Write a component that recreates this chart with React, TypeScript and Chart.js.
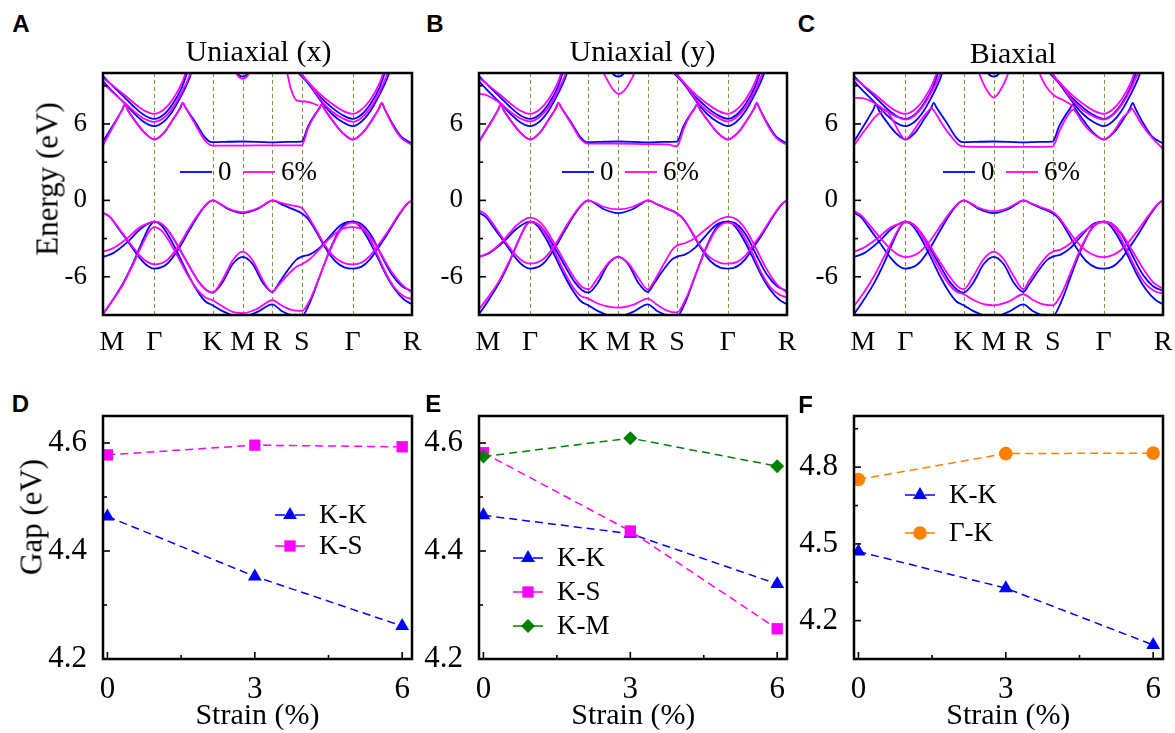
import React, { useEffect, useRef } from 'react';
import { Chart, registerables } from 'chart.js';

Chart.register(...registerables);

type Pt = [number, number];

const SERIF = '"Liberation Serif", "Times New Roman", serif';
const SANS = '"Liberation Sans", Arial, sans-serif';
const BLUE = '#0000ff';
const MAGENTA = '#ff00ff';
const GREEN = '#008000';
const ORANGE = '#ff8000';
const OLIVE = '#8a8a40';

// ---------------- band structure (panels A-C) ----------------
const K_POS = [0, 0.166, 0.355, 0.452, 0.548, 0.643, 0.808, 1.0];
const K_LABEL_POS = [0.029, 0.166, 0.355, 0.452, 0.548, 0.643, 0.808, 1.0];
const K_LABELS = ['M', 'Γ', 'K', 'M', 'R', 'S', 'Γ', 'R'];
const E_TICKS = [-6, 0, 6];
const E_MINOR = [-3, 3, 9];
const BAND_LEGEND = ['0', '6%'];

// unstrained (0) bands, same in all three panels
const BLUE_V1: Pt[] = [[0,-0.97],[0.022,-1.3],[0.044,-2.0],[0.087,-3.45],[0.12,-4.55],[0.145,-5.15],[0.166,-5.36],[0.207,-5.0],[0.244,-3.84],[0.281,-2.27],[0.314,-0.97],[0.341,-0.18],[0.355,0],[0.38,-0.3],[0.404,-0.68],[0.452,-1.0],[0.5,-0.68],[0.525,-0.3],[0.548,0],[0.578,-0.31],[0.61,-0.65],[0.643,-1.02],[0.665,-1.5],[0.692,-2.54],[0.719,-3.7],[0.751,-4.76],[0.783,-5.28],[0.808,-5.36],[0.837,-5.2],[0.864,-4.63],[0.891,-3.71],[0.923,-2.54],[0.956,-1.23],[0.983,-0.31],[1,0]];
const BLUE_V2: Pt[] = [[0,-4.44],[0.033,-4.14],[0.077,-3.32],[0.12,-2.27],[0.152,-1.76],[0.166,-1.67],[0.19,-1.85],[0.215,-2.5],[0.245,-3.7],[0.28,-5.2],[0.31,-6.4],[0.335,-7.05],[0.355,-7.24],[0.385,-6.5],[0.42,-5.0],[0.452,-4.44],[0.484,-5.0],[0.518,-6.5],[0.548,-7.19],[0.567,-6.59],[0.6,-5.41],[0.627,-4.63],[0.643,-4.42],[0.67,-4.24],[0.702,-3.71],[0.735,-2.8],[0.773,-1.88],[0.808,-1.67],[0.837,-1.88],[0.869,-2.8],[0.902,-4.37],[0.934,-5.8],[0.967,-6.72],[1,-7.11]];
const BLUE_V3: Pt[] = [[0,-8.94],[0.033,-7.76],[0.066,-6.46],[0.098,-4.89],[0.13,-3.06],[0.152,-2.0],[0.166,-1.67],[0.19,-2.0],[0.215,-2.9],[0.245,-4.3],[0.275,-5.8],[0.305,-7.1],[0.33,-7.9],[0.355,-8.24],[0.385,-8.68],[0.42,-9.02],[0.452,-9.12],[0.5,-8.75],[0.548,-8.16],[0.578,-8.68],[0.61,-9.0],[0.643,-9.1],[0.67,-8.0],[0.702,-5.93],[0.735,-3.84],[0.767,-2.27],[0.79,-1.75],[0.808,-1.67],[0.83,-2.0],[0.855,-2.9],[0.885,-4.3],[0.915,-5.8],[0.945,-7.0],[0.975,-7.8],[1,-8.16]];
const BLUE_C1: Pt[] = [[0,4.62],[0.035,6.0],[0.062,7.1],[0.071,7.53],[0.08,7.1],[0.105,6.2],[0.135,5.3],[0.166,4.78],[0.197,5.3],[0.225,6.3],[0.249,7.2],[0.258,7.66],[0.268,7.25],[0.3,6.1],[0.33,4.95],[0.347,4.6],[0.36,4.57],[0.4,4.6],[0.452,4.62],[0.5,4.6],[0.548,4.55],[0.6,4.6],[0.643,4.62],[0.664,5.83],[0.686,6.75],[0.699,7.2],[0.708,7.53],[0.717,7.15],[0.745,6.2],[0.775,5.3],[0.808,4.78],[0.84,5.3],[0.87,6.3],[0.893,7.2],[0.902,7.66],[0.911,7.2],[0.935,6.1],[0.965,5.0],[1,4.47]];
const BLUE_C2: Pt[] = [[0,9.35],[0.035,8.45],[0.071,7.6],[0.1,6.85],[0.13,6.2],[0.166,5.83],[0.195,6.15],[0.225,7.0],[0.255,8.3],[0.28,9.6],[0.3,11],[0.6,11],[0.64,10.0],[0.67,9.0],[0.708,7.7],[0.74,6.8],[0.775,6.15],[0.808,5.83],[0.835,6.15],[0.865,7.0],[0.895,8.3],[0.92,9.6],[0.94,11]];
const BLUE_C3: Pt[] = [[0,9.75],[0.035,8.9],[0.071,8.05],[0.1,7.35],[0.13,6.75],[0.166,6.4],[0.195,6.7],[0.225,7.55],[0.255,8.85],[0.275,10.2],[0.29,11],[0.6,11],[0.625,10.2],[0.66,9.3],[0.7,8.2],[0.74,7.3],[0.775,6.7],[0.808,6.4],[0.835,6.7],[0.865,7.55],[0.895,8.85],[0.915,10.2],[0.93,11]];
const BLUE_C4: Pt[] = [[0.415,11],[0.435,9.95],[0.452,9.72],[0.469,9.95],[0.489,11]];

// highest magenta cup at Γ (nearly identical in all three panels)
const MAG_CUP_HIGH: Pt[] = [[0,9.6],[0.035,8.95],[0.071,8.25],[0.1,7.65],[0.13,7.1],[0.166,6.8],[0.195,7.1],[0.225,7.9],[0.255,9.2],[0.272,10.3],[0.285,11],[0.6,11],[0.625,10.3],[0.66,9.4],[0.7,8.4],[0.74,7.6],[0.775,7.05],[0.808,6.8],[0.835,7.1],[0.865,7.9],[0.895,9.2],[0.912,10.3],[0.925,11]];

// panel A: uniaxial (x), 6 %
const MAG_A_V1: Pt[] = [[0,-0.97],[0.022,-1.28],[0.044,-1.95],[0.087,-3.35],[0.12,-4.35],[0.145,-4.85],[0.166,-5.02],[0.207,-4.7],[0.244,-3.6],[0.281,-2.1],[0.314,-0.9],[0.341,-0.15],[0.355,0],[0.38,-0.28],[0.404,-0.62],[0.452,-0.92],[0.5,-0.62],[0.525,-0.28],[0.548,0],[0.578,-0.2],[0.61,-0.4],[0.643,-0.6],[0.665,-1.3],[0.692,-2.4],[0.719,-3.55],[0.751,-4.5],[0.783,-4.95],[0.808,-5.02],[0.837,-4.88],[0.864,-4.35],[0.891,-3.5],[0.923,-2.4],[0.956,-1.15],[0.983,-0.3],[1,0]];
const MAG_A_V2: Pt[] = [[0,-4.03],[0.033,-3.75],[0.077,-3.0],[0.12,-2.1],[0.152,-1.75],[0.166,-1.67],[0.19,-1.85],[0.215,-2.5],[0.245,-3.7],[0.28,-5.2],[0.31,-6.4],[0.335,-7.05],[0.355,-7.24],[0.385,-6.3],[0.42,-4.7],[0.452,-4.03],[0.484,-4.7],[0.518,-6.3],[0.548,-7.2],[0.567,-6.7],[0.6,-5.8],[0.627,-5.2],[0.643,-5.02],[0.67,-4.6],[0.702,-3.8],[0.735,-2.95],[0.773,-2.25],[0.808,-2.1],[0.837,-2.25],[0.869,-3.0],[0.902,-4.3],[0.934,-5.6],[0.967,-6.6],[1,-7.24]];
const MAG_A_V3: Pt[] = [[0,-8.9],[0.033,-7.8],[0.066,-6.55],[0.098,-5.0],[0.13,-3.3],[0.152,-2.35],[0.166,-2.1],[0.19,-2.4],[0.215,-3.25],[0.245,-4.55],[0.275,-5.9],[0.305,-7.0],[0.33,-7.6],[0.355,-7.84],[0.385,-8.3],[0.42,-8.75],[0.452,-8.86],[0.5,-8.5],[0.548,-7.84],[0.578,-8.25],[0.61,-8.6],[0.643,-8.68],[0.67,-7.8],[0.702,-5.9],[0.735,-3.9],[0.767,-2.4],[0.79,-1.85],[0.808,-1.75],[0.83,-1.9],[0.855,-2.6],[0.885,-4.1],[0.915,-5.7],[0.945,-6.9],[0.975,-7.55],[1,-7.76]];
const MAG_A_C1: Pt[] = [[0,4.33],[0.035,5.9],[0.062,7.1],[0.071,7.55],[0.08,7.1],[0.105,6.2],[0.135,5.3],[0.166,4.78],[0.197,5.3],[0.225,6.3],[0.249,7.2],[0.258,7.68],[0.268,7.25],[0.3,5.9],[0.33,4.7],[0.347,4.35],[0.36,4.3],[0.452,4.3],[0.548,4.32],[0.643,4.32],[0.664,5.7],[0.686,6.7],[0.699,7.15],[0.708,7.55],[0.717,7.15],[0.745,6.2],[0.775,5.3],[0.808,4.78],[0.84,5.3],[0.87,6.3],[0.893,7.2],[0.902,7.68],[0.911,7.2],[0.935,6.0],[0.965,4.9],[1,4.34]];
const MAG_A_C2: Pt[] = [[0,9.2],[0.035,8.4],[0.071,7.65],[0.1,7.0],[0.13,6.45],[0.166,6.17],[0.195,6.45],[0.225,7.25],[0.255,8.5],[0.28,9.8],[0.295,11],[0.62,11],[0.64,10.0],[0.67,9.1],[0.708,7.8],[0.74,7.0],[0.775,6.45],[0.808,6.17],[0.835,6.45],[0.865,7.25],[0.895,8.5],[0.918,9.8],[0.935,11]];
const MAG_A_C4: Pt[] = [[0.415,11],[0.433,9.9],[0.452,9.55],[0.471,9.9],[0.489,11]];
const MAG_A_C5: Pt[] = [[0.585,11],[0.594,10.2],[0.61,8.6],[0.627,7.85],[0.659,7.75],[0.697,7.45]];

// panel B: uniaxial (y), 6 %
const MAG_B_V1: Pt[] = [[0,-0.8],[0.022,-1.1],[0.044,-1.8],[0.087,-3.3],[0.12,-4.3],[0.145,-4.82],[0.166,-4.97],[0.207,-4.65],[0.244,-3.6],[0.281,-2.1],[0.314,-0.9],[0.341,-0.15],[0.355,0],[0.38,-0.22],[0.404,-0.5],[0.452,-0.7],[0.5,-0.5],[0.525,-0.22],[0.548,0],[0.578,-0.3],[0.61,-0.65],[0.643,-1.05],[0.665,-1.5],[0.692,-2.5],[0.719,-3.6],[0.751,-4.5],[0.783,-4.9],[0.808,-4.97],[0.837,-4.85],[0.864,-4.35],[0.891,-3.5],[0.923,-2.4],[0.956,-1.15],[0.983,-0.3],[1,0]];
const MAG_B_V2: Pt[] = [[0,-4.45],[0.033,-4.1],[0.077,-3.2],[0.12,-2.0],[0.152,-1.45],[0.166,-1.35],[0.19,-1.55],[0.215,-2.2],[0.245,-3.4],[0.28,-4.9],[0.31,-6.1],[0.335,-6.8],[0.355,-6.98],[0.385,-6.1],[0.42,-4.9],[0.452,-4.45],[0.484,-4.9],[0.518,-6.1],[0.548,-7.0],[0.567,-6.4],[0.6,-5.0],[0.627,-3.9],[0.643,-3.55],[0.67,-3.35],[0.702,-2.95],[0.735,-2.3],[0.773,-1.6],[0.808,-1.3],[0.837,-1.5],[0.869,-2.4],[0.902,-3.9],[0.934,-5.4],[0.967,-6.6],[1,-7.24]];
const MAG_B_V3: Pt[] = [[0,-8.55],[0.033,-7.5],[0.066,-6.3],[0.098,-4.8],[0.13,-3.1],[0.152,-2.0],[0.166,-1.7],[0.19,-1.85],[0.215,-2.6],[0.245,-4.0],[0.275,-5.5],[0.305,-6.8],[0.33,-7.5],[0.355,-7.71],[0.385,-8.1],[0.42,-8.35],[0.452,-8.42],[0.5,-8.2],[0.548,-7.71],[0.578,-8.2],[0.61,-8.65],[0.643,-8.8],[0.67,-7.8],[0.702,-5.9],[0.735,-3.9],[0.767,-2.4],[0.79,-1.85],[0.808,-1.75],[0.83,-1.9],[0.855,-2.6],[0.885,-4.0],[0.915,-5.6],[0.945,-6.8],[0.975,-7.4],[1,-7.63]];
const MAG_B_C1: Pt[] = [[0,4.6],[0.035,5.95],[0.062,7.1],[0.071,7.55],[0.08,7.1],[0.105,6.2],[0.135,5.3],[0.166,4.78],[0.197,5.3],[0.225,6.3],[0.249,7.2],[0.258,7.66],[0.268,7.25],[0.3,6.0],[0.33,4.8],[0.347,4.5],[0.36,4.45],[0.452,4.45],[0.548,4.42],[0.61,4.4],[0.643,4.25],[0.664,5.6],[0.686,6.7],[0.699,7.15],[0.708,7.55],[0.717,7.15],[0.745,6.2],[0.775,5.3],[0.808,4.78],[0.84,5.3],[0.87,6.3],[0.893,7.2],[0.902,7.66],[0.911,7.2],[0.935,6.0],[0.965,4.9],[1,4.35]];
const MAG_B_C2: Pt[] = [[0,8.35],[0.02,8.3],[0.045,8.0],[0.071,7.6],[0.1,7.0],[0.13,6.5],[0.166,6.2],[0.195,6.5],[0.225,7.3],[0.255,8.55],[0.28,9.85],[0.295,11],[0.62,11],[0.64,10.0],[0.67,9.1],[0.708,7.8],[0.74,7.05],[0.775,6.5],[0.808,6.2],[0.835,6.5],[0.865,7.3],[0.895,8.55],[0.918,9.85],[0.935,11]];
const MAG_B_C4: Pt[] = [[0.39,11],[0.403,10.1],[0.42,9.3],[0.437,8.65],[0.455,8.35],[0.473,8.65],[0.49,9.3],[0.507,10.1],[0.52,11]];

// panel C: biaxial, 6 %
const MAG_C_V1: Pt[] = [[0,-0.84],[0.022,-1.15],[0.044,-1.75],[0.087,-3.0],[0.12,-3.85],[0.145,-4.3],[0.166,-4.45],[0.207,-4.15],[0.244,-3.25],[0.281,-1.95],[0.314,-0.85],[0.341,-0.15],[0.355,0],[0.38,-0.25],[0.404,-0.58],[0.452,-0.85],[0.5,-0.58],[0.525,-0.25],[0.548,0],[0.578,-0.28],[0.61,-0.58],[0.643,-0.9],[0.665,-1.4],[0.692,-2.3],[0.719,-3.2],[0.751,-3.95],[0.783,-4.35],[0.808,-4.45],[0.837,-4.3],[0.864,-3.9],[0.891,-3.2],[0.923,-2.2],[0.956,-1.1],[0.983,-0.3],[1,0]];
const MAG_C_V2: Pt[] = [[0,-4.03],[0.033,-3.7],[0.077,-2.95],[0.12,-2.1],[0.152,-1.78],[0.166,-1.7],[0.19,-1.85],[0.215,-2.45],[0.245,-3.55],[0.28,-4.9],[0.31,-6.0],[0.335,-6.75],[0.355,-6.98],[0.385,-6.0],[0.42,-4.6],[0.452,-4.03],[0.484,-4.6],[0.518,-6.0],[0.548,-6.98],[0.567,-6.3],[0.6,-5.1],[0.627,-4.3],[0.643,-4.03],[0.67,-3.85],[0.702,-3.35],[0.735,-2.6],[0.773,-1.95],[0.808,-1.7],[0.837,-1.9],[0.869,-2.7],[0.902,-4.0],[0.934,-5.3],[0.967,-6.4],[1,-6.95]];
const MAG_C_V3: Pt[] = [[0,-8.29],[0.033,-7.2],[0.066,-5.9],[0.098,-4.4],[0.13,-2.9],[0.152,-1.95],[0.166,-1.7],[0.19,-1.85],[0.215,-2.6],[0.245,-3.95],[0.275,-5.35],[0.305,-6.5],[0.33,-7.15],[0.355,-7.37],[0.385,-7.8],[0.42,-8.15],[0.452,-8.24],[0.5,-7.95],[0.548,-7.37],[0.578,-7.8],[0.61,-8.15],[0.643,-8.24],[0.67,-7.4],[0.702,-5.6],[0.735,-3.7],[0.767,-2.3],[0.79,-1.8],[0.808,-1.7],[0.83,-1.85],[0.855,-2.6],[0.885,-4.0],[0.915,-5.5],[0.945,-6.6],[0.975,-7.15],[1,-7.3]];
const MAG_C_C1: Pt[] = [[0,4.33],[0.035,5.5],[0.07,6.6],[0.092,7.0],[0.1,7.15],[0.108,7.0],[0.13,6.1],[0.15,5.2],[0.166,4.78],[0.185,5.2],[0.21,6.1],[0.24,7.0],[0.25,7.25],[0.26,7.0],[0.285,6.0],[0.315,5.0],[0.34,4.35],[0.36,4.22],[0.452,4.2],[0.548,4.2],[0.643,4.22],[0.664,5.4],[0.69,6.6],[0.702,7.0],[0.709,7.15],[0.716,7.0],[0.74,6.1],[0.77,5.3],[0.808,4.78],[0.84,5.4],[0.87,6.5],[0.892,7.0],[0.899,7.2],[0.906,7.0],[0.93,6.0],[0.965,4.9],[1,4.05]];
const MAG_C_C2: Pt[] = [[0,8.05],[0.02,8.05],[0.045,7.9],[0.075,7.5],[0.105,7.0],[0.135,6.6],[0.166,6.35],[0.195,6.65],[0.225,7.45],[0.255,8.7],[0.28,9.95],[0.295,11],[0.62,11],[0.64,10.0],[0.67,9.1],[0.708,7.85],[0.74,7.1],[0.775,6.6],[0.808,6.35],[0.835,6.65],[0.865,7.45],[0.895,8.7],[0.918,9.95],[0.935,11]];
const MAG_C_C4: Pt[] = [[0.39,11],[0.403,10.1],[0.42,9.1],[0.437,8.4],[0.452,8.06],[0.467,8.4],[0.484,9.1],[0.501,10.1],[0.514,11]];
const MAG_C_C5: Pt[] = [[0.585,11],[0.597,10.2],[0.613,9.3],[0.629,8.7],[0.65,8.2],[0.675,7.9],[0.7,7.55],[0.715,7.3]];

const BLUE_BANDS = [BLUE_V1, BLUE_V2, BLUE_V3, BLUE_C1, BLUE_C2, BLUE_C3, BLUE_C4];
const MAG_A = [MAG_A_V1, MAG_A_V2, MAG_A_V3, MAG_A_C1, MAG_A_C2, MAG_CUP_HIGH, MAG_A_C4, MAG_A_C5];
const MAG_B = [MAG_B_V1, MAG_B_V2, MAG_B_V3, MAG_B_C1, MAG_B_C2, MAG_CUP_HIGH, MAG_B_C4];
const MAG_C = [MAG_C_V1, MAG_C_V2, MAG_C_V3, MAG_C_C1, MAG_C_C2, MAG_CUP_HIGH, MAG_C_C4, MAG_C_C5];

// ---------------- gap vs strain (panels D-F) ----------------
const STRAIN = [0, 3, 6];
const STRAIN_TICKS = [0, 3, 6];
const STRAIN_MINOR = [1.5, 4.5];
const D_KK = [4.464, 4.353, 4.261];
const D_KS = [4.578, 4.596, 4.593];
const E_KK = [4.466, 4.432, 4.339];
const E_KS = [4.582, 4.437, 4.256];
const E_KM = [4.575, 4.609, 4.557];
const F_KK = [4.47, 4.327, 4.105];
const F_GK = [4.752, 4.853, 4.855];
const GAP_TICKS_DE = [4.2, 4.4, 4.6];
const GAP_MINOR_DE = [4.3, 4.5];
const GAP_TICKS_F = [4.2, 4.5, 4.8];
const GAP_MINOR_F = [4.35, 4.65, 4.95];

// ---------------- drawing helpers ----------------
interface LegendItem { label: string; color: string; marker?: string; radius?: number }
interface DecorCfg {
  vlines?: number[];
  xMajor?: number[];
  xMinor?: number[];
  yMajor: number[];
  yMinor: number[];
  kind: 'band' | 'gap';
  dx: number;
  dy: number;
  rowGap?: number;
  items: LegendItem[];
}

function drawMarker(ctx: CanvasRenderingContext2D, style: string, x: number, y: number, r: number) {
  ctx.beginPath();
  if (style === 'triangle') {
    ctx.moveTo(x, y - r);
    ctx.lineTo(x + r * 0.866, y + r * 0.5);
    ctx.lineTo(x - r * 0.866, y + r * 0.5);
    ctx.closePath();
  } else if (style === 'rect') {
    const s = r * Math.SQRT1_2;
    ctx.rect(x - s, y - s, 2 * s, 2 * s);
  } else if (style === 'rectRot') {
    ctx.moveTo(x, y - r);
    ctx.lineTo(x + r, y);
    ctx.lineTo(x, y + r);
    ctx.lineTo(x - r, y);
    ctx.closePath();
  } else {
    ctx.arc(x, y, r, 0, Math.PI * 2);
  }
  ctx.fill();
}

function makeDecor(cfg: DecorCfg) {
  return {
    id: 'decor',
    beforeDatasetsDraw(chart: any) {
      if (!cfg.vlines) return;
      const { ctx, chartArea: ca } = chart;
      const xs = chart.scales.x;
      ctx.save();
      ctx.strokeStyle = OLIVE;
      ctx.lineWidth = 1.1;
      ctx.setLineDash([4, 3]);
      for (const v of cfg.vlines) {
        const px = Math.round(xs.getPixelForValue(v)) + 0.5;
        ctx.beginPath();
        ctx.moveTo(px, ca.top);
        ctx.lineTo(px, ca.bottom);
        ctx.stroke();
      }
      ctx.restore();
    },
    afterDatasetsDraw(chart: any) {
      const { ctx, chartArea: ca } = chart;
      const xs = chart.scales.x;
      const ys = chart.scales.y;
      ctx.save();
      ctx.setLineDash([]);
      ctx.strokeStyle = '#000';
      ctx.lineWidth = 1.6;
      const hTick = (v: number, len: number) => {
        const py = ys.getPixelForValue(v);
        ctx.beginPath(); ctx.moveTo(ca.left, py); ctx.lineTo(ca.left + len, py); ctx.stroke();
      };
      const vTick = (v: number, len: number) => {
        const px = xs.getPixelForValue(v);
        ctx.beginPath(); ctx.moveTo(px, ca.bottom); ctx.lineTo(px, ca.bottom - len); ctx.stroke();
      };
      cfg.yMajor.forEach((v) => hTick(v, 7));
      cfg.yMinor.forEach((v) => hTick(v, 4));
      (cfg.xMajor || []).forEach((v) => vTick(v, 7));
      (cfg.xMinor || []).forEach((v) => vTick(v, 4));
      ctx.lineWidth = 2.5;
      ctx.strokeRect(ca.left, ca.top, ca.right - ca.left, ca.bottom - ca.top);

      // legend
      ctx.font = `27px ${SERIF}`;
      ctx.textBaseline = 'middle';
      ctx.textAlign = 'left';
      if (cfg.kind === 'band') {
        const y = ca.top + cfg.dy;
        cfg.items.forEach((it, i) => {
          const lx = ca.left + cfg.dx + i * 63;
          ctx.strokeStyle = it.color;
          ctx.lineWidth = 1.8;
          ctx.beginPath(); ctx.moveTo(lx, y); ctx.lineTo(lx + 32, y); ctx.stroke();
          ctx.fillStyle = '#000';
          ctx.fillText(it.label, lx + 38, y + 1);
        });
      } else {
        cfg.items.forEach((it, i) => {
          const y = ca.top + cfg.dy + i * (cfg.rowGap || 32);
          const lx = ca.left + cfg.dx;
          ctx.strokeStyle = it.color;
          ctx.fillStyle = it.color;
          ctx.lineWidth = 1.5;
          ctx.beginPath(); ctx.moveTo(lx, y); ctx.lineTo(lx + 10, y); ctx.stroke();
          ctx.beginPath(); ctx.moveTo(lx + 20, y); ctx.lineTo(lx + 30, y); ctx.stroke();
          drawMarker(ctx, it.marker || 'circle', lx + 15, y, it.radius || 6);
          ctx.fillStyle = '#000';
          ctx.fillText(it.label, lx + 44, y + 1);
        });
      }
      ctx.restore();
    },
  };
}

const bandDataset = (pts: Pt[], color: string) => ({
  data: pts.map(([x, y]) => ({ x, y })),
  borderColor: color,
  backgroundColor: color,
  borderWidth: 1.8,
  pointRadius: 0,
  pointHoverRadius: 0,
  showLine: true,
  fill: false,
  cubicInterpolationMode: 'monotone',
});

function bandConfig(magenta: Pt[][], legendDx: number): any {
  return {
    type: 'scatter',
    data: {
      datasets: [
        ...magenta.map((b) => bandDataset(b, MAGENTA)),
        ...BLUE_BANDS.map((b) => bandDataset(b, BLUE)),
      ],
    },
    options: {
      responsive: false,
      animation: false,
      events: [],
      layout: { padding: { left: 0, right: 15, top: 30, bottom: 0 } },
      plugins: { legend: { display: false }, tooltip: { enabled: false } },
      scales: {
        x: {
          type: 'linear', min: 0, max: 1,
          afterBuildTicks: (s: any) => { s.ticks = K_LABEL_POS.map((v) => ({ value: v })); },
          afterFit: (s: any) => { s.height = 45; },
          ticks: {
            autoSkip: false, maxRotation: 0, minRotation: 0, padding: 3, color: '#000',
            font: { family: SERIF, size: 28 },
            callback: (_v: any, i: number) => K_LABELS[i],
          },
          grid: { display: false }, border: { display: false },
        },
        y: {
          type: 'linear', min: -9, max: 10,
          afterBuildTicks: (s: any) => { s.ticks = E_TICKS.map((v) => ({ value: v })); },
          afterFit: (s: any) => { s.width = 60; },
          ticks: { padding: 8, color: '#000', font: { family: SERIF, size: 27 }, callback: (v: any) => String(v) },
          grid: { display: false }, border: { display: false },
        },
      },
    },
    plugins: [
      makeDecor({
        vlines: K_POS.slice(1, -1),
        yMajor: E_TICKS,
        yMinor: E_MINOR,
        kind: 'band',
        dx: legendDx,
        dy: 99,
        items: [
          { label: BAND_LEGEND[0], color: BLUE },
          { label: BAND_LEGEND[1], color: MAGENTA },
        ],
      }),
    ],
  };
}

interface Series { values: number[]; color: string; marker: string; radius: number; label: string }

function gapConfig(series: Series[], yMin: number, yMax: number, yTicks: number[], yMinor: number[], legend: { dx: number; dy: number; rowGap: number }): any {
  return {
    type: 'scatter',
    data: {
      datasets: series.map((s) => ({
        data: STRAIN.map((x, i) => ({ x, y: s.values[i] })),
        borderColor: s.color,
        backgroundColor: s.color,
        borderWidth: 1.5,
        borderDash: [8, 5],
        showLine: true,
        pointStyle: s.marker,
        pointRadius: s.radius,
        pointBorderWidth: 0,
        pointBackgroundColor: s.color,
      })),
    },
    options: {
      responsive: false,
      animation: false,
      events: [],
      layout: { padding: { left: 0, right: 15, top: 30, bottom: 0 } },
      plugins: { legend: { display: false }, tooltip: { enabled: false } },
      scales: {
        x: {
          type: 'linear', min: -0.09, max: 6.2,
          afterBuildTicks: (s: any) => { s.ticks = STRAIN_TICKS.map((v) => ({ value: v })); },
          afterFit: (s: any) => { s.height = 45; },
          ticks: { autoSkip: false, maxRotation: 0, padding: 4, color: '#000', font: { family: SERIF, size: 31 }, callback: (v: any) => String(v) },
          grid: { display: false }, border: { display: false },
        },
        y: {
          type: 'linear', min: yMin, max: yMax,
          afterBuildTicks: (s: any) => { s.ticks = yTicks.map((v) => ({ value: v })); },
          afterFit: (s: any) => { s.width = 60; },
          ticks: { padding: 8, color: '#000', font: { family: SERIF, size: 31 }, callback: (v: any) => Number(v).toFixed(1) },
          grid: { display: false }, border: { display: false },
        },
      },
    },
    plugins: [
      makeDecor({
        xMajor: STRAIN_TICKS,
        xMinor: STRAIN_MINOR,
        yMajor: yTicks,
        yMinor: yMinor,
        kind: 'gap',
        dx: legend.dx,
        dy: legend.dy,
        rowGap: legend.rowGap,
        items: series.slice().reverse().map((s) => ({ label: s.label, color: s.color, marker: s.marker, radius: s.radius })),
      }),
    ],
  };
}

function ChartBox({ left, top, width, height, make }: { left: number; top: number; width: number; height: number; make: () => any }) {
  const ref = useRef<HTMLCanvasElement>(null);
  useEffect(() => {
    const chart = new Chart(ref.current as HTMLCanvasElement, make());
    return () => chart.destroy();
  }, []);
  return (
    <div style={{ position: 'absolute', left, top, width, height }}>
      <canvas ref={ref} width={width} height={height} style={{ width, height, display: 'block' }} />
    </div>
  );
}

function Txt({ x, y, size, text, family = SERIF, weight = 'normal', rotate = false }: { x: number; y: number; size: number; text: string; family?: string; weight?: string; rotate?: boolean }) {
  return (
    <div
      style={{
        position: 'absolute', left: x, top: y,
        transform: `translate(-50%, -50%)${rotate ? ' rotate(-90deg)' : ''}`,
        fontFamily: family, fontSize: size, fontWeight: weight as any, lineHeight: 1,
        whiteSpace: 'nowrap', color: '#000',
      }}
    >
      {text}
    </div>
  );
}

const TOP_PANELS = [
  { left: 103, width: 309, mag: MAG_A, dx: 77 },
  { left: 479, width: 308, mag: MAG_B, dx: 83 },
  { left: 854, width: 309, mag: MAG_C, dx: 89 },
];

export default function App() {
  return (
    <div style={{ position: 'fixed', left: 0, top: 0, width: 1175, height: 733, background: '#fff', overflow: 'hidden' }}>
      {TOP_PANELS.map((p, i) => (
        <ChartBox key={'t' + i} left={p.left - 60} top={43} width={p.width + 75} height={317} make={() => bandConfig(p.mag, p.dx)} />
      ))}
      <ChartBox left={43} top={386} width={384} height={318} make={() => gapConfig([
        { values: D_KS, color: MAGENTA, marker: 'rect', radius: 8, label: 'K-S' },
        { values: D_KK, color: BLUE, marker: 'triangle', radius: 8, label: 'K-K' },
      ], 4.2, 4.65, GAP_TICKS_DE, GAP_MINOR_DE, { dx: 172, dy: 99, rowGap: 31 })} />
      <ChartBox left={419} top={386} width={383} height={318} make={() => gapConfig([
        { values: E_KM, color: GREEN, marker: 'rectRot', radius: 7, label: 'K-M' },
        { values: E_KS, color: MAGENTA, marker: 'rect', radius: 8, label: 'K-S' },
        { values: E_KK, color: BLUE, marker: 'triangle', radius: 8, label: 'K-K' },
      ], 4.2, 4.65, GAP_TICKS_DE, GAP_MINOR_DE, { dx: 34, dy: 142, rowGap: 34 })} />
      <ChartBox left={794} top={386} width={384} height={318} make={() => gapConfig([
        { values: F_GK, color: ORANGE, marker: 'circle', radius: 6.8, label: 'Γ-K' },
        { values: F_KK, color: BLUE, marker: 'triangle', radius: 8, label: 'K-K' },
      ], 4.05, 5.0, GAP_TICKS_F, GAP_MINOR_F, { dx: 51, dy: 79, rowGap: 38 })} />

      <Txt x={21} y={23.5} size={24} text="A" family={SANS} weight="bold" />
      <Txt x={435} y={23.5} size={24} text="B" family={SANS} weight="bold" />
      <Txt x={806.5} y={23.5} size={24} text="C" family={SANS} weight="bold" />
      <Txt x={20.5} y={404} size={24} text="D" family={SANS} weight="bold" />
      <Txt x={433.3} y={404} size={24} text="E" family={SANS} weight="bold" />
      <Txt x={805.7} y={405} size={24} text="F" family={SANS} weight="bold" />

      <Txt x={258.5} y={50.5} size={30} text="Uniaxial (x)" />
      <Txt x={642.5} y={50.5} size={30} text="Uniaxial (y)" />
      <Txt x={1013} y={52.5} size={30} text="Biaxial" />

      <Txt x={47} y={178.5} size={31} text="Energy (eV)" rotate />
      <Txt x={31} y={517} size={31} text="Gap (eV)" rotate />

      <Txt x={257.5} y={714} size={30} text="Strain (%)" />
      <Txt x={633.3} y={714} size={30} text="Strain (%)" />
      <Txt x={1008.3} y={714} size={30} text="Strain (%)" />
    </div>
  );
}
